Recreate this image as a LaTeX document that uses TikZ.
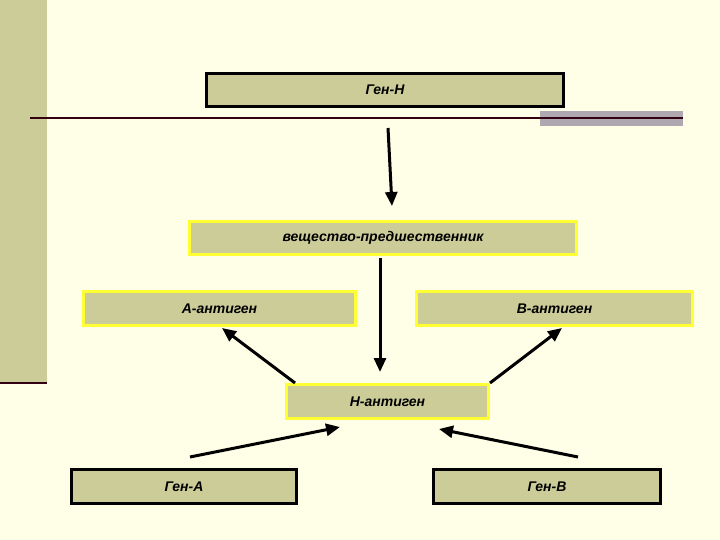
\documentclass[tikz,border=0pt]{standalone}
\usepackage{fontspec}
\setmainfont{Liberation Sans}
\usetikzlibrary{arrows.meta}
\definecolor{bg}{HTML}{FFFFE8}
\definecolor{olive}{HTML}{CCCC99}
\definecolor{yel}{HTML}{FFFF33}
\definecolor{grayb}{HTML}{B0A8B0}
\definecolor{dline}{HTML}{330011}
\tikzset{
 box/.style={draw=black,line width=3pt,fill=olive,inner sep=0pt,font=\bfseries\itshape\fontsize{14}{16}\selectfont},
 ybox/.style={box,draw=yel},
 arr/.style={line width=3pt,-{Triangle[width=12pt,length=14pt]}}
}
\begin{document}
\begin{tikzpicture}[x=1pt,y=-1pt]
\fill[bg] (0,0) rectangle (720,540);
\useasboundingbox (0,0) rectangle (720,540);
\fill[olive] (0,0) rectangle (47,383);
\draw[dline,line width=2pt] (0,383) -- (47,383);
\fill[grayb] (540,111) rectangle (683,126);
\draw[dline,line width=1.5pt] (30,118) -- (683,118);
\node[box,minimum width=357pt,minimum height=33pt] (genH) at (385,90) {Ген-Н};
\node[ybox,minimum width=387pt,minimum height=33pt] (vesh) at (383,238) {вещество-предшественник};
\node[ybox,minimum width=272pt,minimum height=34pt] (A) at (219.5,308.5) {А-антиген};
\node[ybox,minimum width=276pt,minimum height=34pt] (B) at (554.5,308.5) {В-антиген};
\node[ybox,minimum width=202pt,minimum height=34pt] (H) at (387.5,401.5) {Н-антиген};
\node[box,minimum width=225pt,minimum height=34pt] (gA) at (184,486.5) {Ген-А};
\node[box,minimum width=227pt,minimum height=34pt] (gB) at (547,486.5) {Ген-В};
\coordinate (a1) at (388,128); \coordinate (a2) at (392,206);
\draw[arr] (a1) -- (a2);
\draw[arr] (380,258) -- (380,372);
\coordinate (c1) at (295,383); \coordinate (c2) at (222,328);
\draw[arr] (c1) -- (c2);
\coordinate (d1) at (490,383); \coordinate (d2) at (562,328);
\draw[arr] (d1) -- (d2);
\coordinate (e1) at (190,457); \coordinate (e2) at (340,427);
\draw[arr] (e1) -- (e2);
\coordinate (f1) at (578,457); \coordinate (f2) at (439,429);
\draw[arr] (f1) -- (f2);
\end{tikzpicture}
\end{document}
